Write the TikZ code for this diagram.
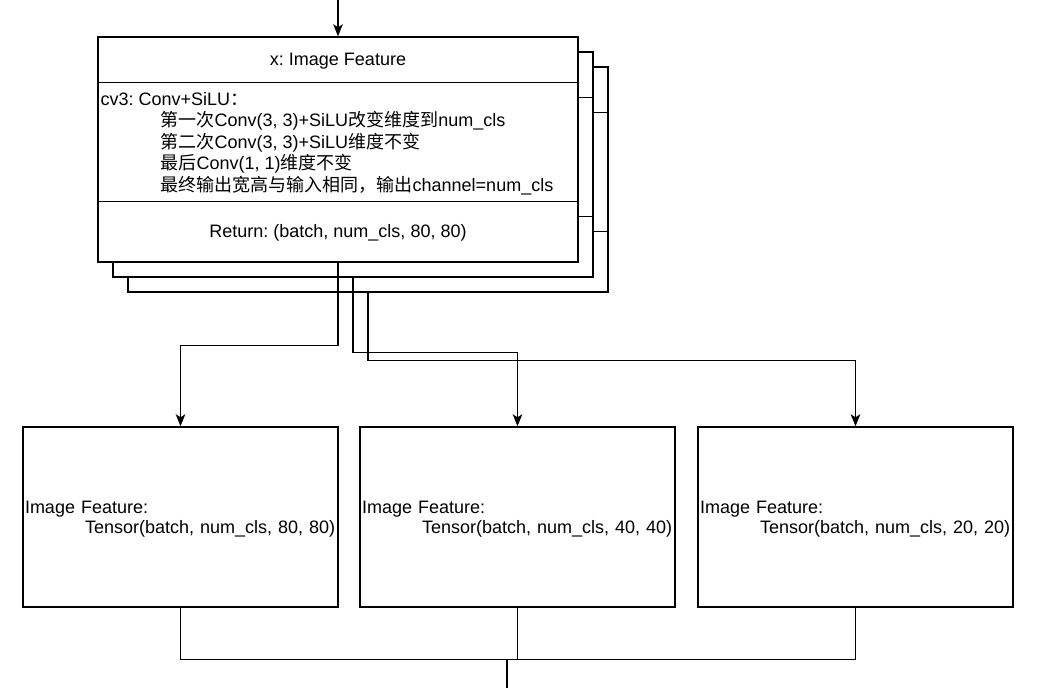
\documentclass[tikz,border=0pt]{standalone}
\usepackage{fontspec}
\setmainfont{Liberation Sans}
\newfontfamily\cjk{Noto Sans CJK SC}
\newcommand{\zh}[1]{{\cjk #1}}
\usetikzlibrary{arrows.meta}
\frenchspacing

\begin{document}
\begin{tikzpicture}[ x = 1pt, y = -1pt, line width = 1.4pt,
    font = \fontsize{18}{21.5}\selectfont ]
    \tikzset{layer/.style   = {draw, fill = white, minimum width = 480pt,
                               minimum height = 225pt, inner sep = 0pt},
             feature/.style = {draw, minimum width = 315pt, minimum height = 180pt},
             ftext/.style   = {text width = 311pt, align = left, inner sep = 0pt,
                               font = \fontsize{18}{20.5}\selectfont},
             flow/.style    = {-{Stealth[length = 12pt, width = 9.5pt, inset = 3pt]}}}

    \useasboundingbox (0,0) rectangle (1039,688);

    % stacked cv3 layers, back to front
    \foreach \d/\n in {30/c, 15/b, 0/a}{
        \node[layer] (L\n) at (338+\d, 149.5+\d) {};
        \draw ([yshift = -46pt]L\n.north west) -- ([yshift = -46pt]L\n.north east);
        \draw ([yshift = -165pt]L\n.north west) -- ([yshift = -165pt]L\n.north east);
    }
    \node (title) at (338, 61) {x: Image Feature};
    \node[anchor = west, align = left, inner sep = 0pt] (body) at (100, 143.5)
        {cv3: Conv+SiLU\zh{：}\\
         \hspace*{60pt}\zh{第一次}Conv(3, 3)+SiLU\zh{改变维度到}num\_cls\\
         \hspace*{60pt}\zh{第二次}Conv(3, 3)+SiLU\zh{维度不变}\\
         \hspace*{60pt}\zh{最后}Conv(1, 1)\zh{维度不变}\\
         \hspace*{60pt}\zh{最终输出宽高与输入相同，输出}channel=num\_cls};
    \node (ret) at (338, 233) {Return: (batch, num\_cls, 80, 80)};

    % outputs
    \node[feature] (P3) at (180.5, 517) {};
    \node[feature] (P4) at (517.5, 517) {};
    \node[feature] (P5) at (855.5, 517) {};
    \node[ftext] (P3t) at (180.5, 519) {Image Feature:\\
        \hspace*{60pt}Tensor(batch, num\_cls, 80, 80)};
    \node[ftext] (P4t) at (517.5, 519) {Image Feature:\\
        \hspace*{60pt}Tensor(batch, num\_cls, 40, 40)};
    \node[ftext] (P5t) at (855.5, 519) {Image Feature:\\
        \hspace*{60pt}Tensor(batch, num\_cls, 20, 20)};

    \coordinate (in) at (338, 0);
    \coordinate (join) at (507, 659);
    \coordinate (out) at (507, 688);

    \draw[flow] (in) -- (La.north);
    \draw[flow] (La.south) -- ++(0,83) -| (P3.north);
    \draw[flow] (Lb.south) -- ++(0,75) -| (P4.north);
    \draw[flow] (Lc.south) -- ++(0,68) -| (P5.north);

    \draw (P3.south) -- ++(0,52) -| (P5.south);
    \draw (P4.south) -- ++(0,52);
    \draw (join) -- (out);
\end{tikzpicture}
\end{document}
